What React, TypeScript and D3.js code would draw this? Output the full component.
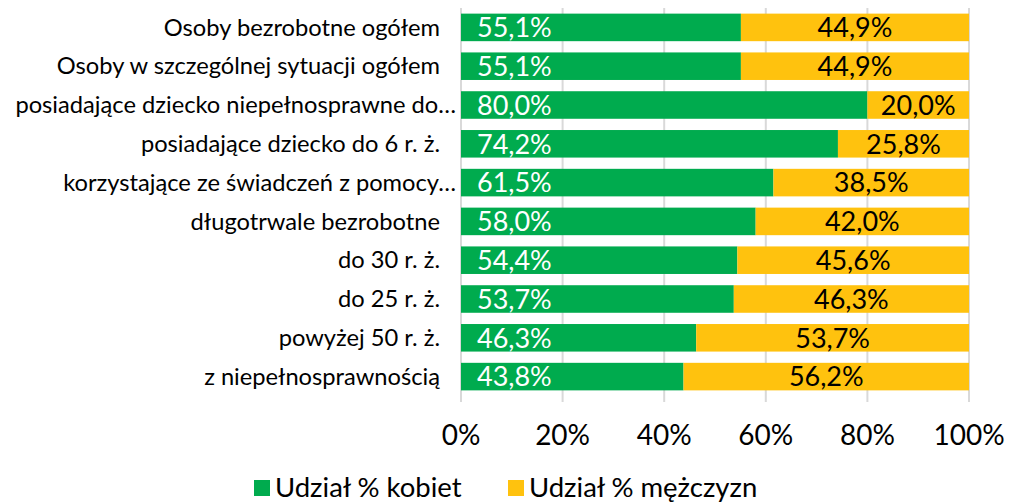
import React from "react";
import * as d3 from "d3";

const categories = [
  "Osoby bezrobotne ogółem",
  "Osoby w szczególnej sytuacji ogółem",
  "posiadające dziecko niepełnosprawne do…",
  "posiadające dziecko do 6 r. ż.",
  "korzystające ze świadczeń z pomocy…",
  "długotrwale bezrobotne",
  "do 30 r. ż.",
  "do 25 r. ż.",
  "powyżej 50 r. ż.",
  "z niepełnosprawnością",
];
const women = [55.1, 55.1, 80.0, 74.2, 61.5, 58.0, 54.4, 53.7, 46.3, 43.8];
const men = [44.9, 44.9, 20.0, 25.8, 38.5, 42.0, 45.6, 46.3, 53.7, 56.2];
const ticks = [0, 20, 40, 60, 80, 100];
const seriesNames = ["Udział % kobiet", "Udział % mężczyzn"];

const GREEN = "#00AB4E";
const YELLOW = "#FFC20E";
const FONT = "Lato, 'Open Sans', sans-serif";

const fmt = (v: number) => v.toFixed(1).replace(".", ",") + "%";

export default function App() {
  const width = 1009;
  const height = 504;
  const margin = { top: 8, right: 40, bottom: 108, left: 461 };

  const x = d3.scaleLinear().domain([0, 100]).range([margin.left, 969]);
  const y = d3
    .scaleBand()
    .domain(categories)
    .range([margin.top, height - margin.bottom])
    .paddingInner(0.29)
    .paddingOuter(0.145);

  return (
    <svg
      width={width}
      height={height}
      style={{ position: "absolute", left: 0, top: 0, fontFamily: FONT }}
    >
      {/* grid */}
      {ticks.map((t) => (
        <line
          key={t}
          x1={x(t)}
          x2={x(t)}
          y1={margin.top}
          y2={height - margin.bottom + 6}
          stroke="#d9d9d9"
          strokeWidth={2}
        />
      ))}

      {categories.map((c, i) => {
        const y0 = y(c)!;
        const bh = y.bandwidth();
        const cy = y0 + bh / 2;
        const truncated = c.endsWith("…");
        return (
          <g key={c}>
            <rect x={x(0)} y={y0} width={x(women[i]) - x(0)} height={bh} fill={GREEN} />
            <rect
              x={x(women[i])}
              y={y0}
              width={x(100) - x(women[i])}
              height={bh}
              fill={YELLOW}
            />
            <text x={x(0) + 16} y={cy} dy="0.36em" fill="#fff" fontSize={27}>
              {fmt(women[i])}
            </text>
            <text
              x={(x(women[i]) + x(100)) / 2}
              y={cy}
              dy="0.36em"
              textAnchor="middle"
              fill="#000"
              fontSize={27}
            >
              {fmt(men[i])}
            </text>
            <text
              x={truncated ? 456 : 440}
              y={cy}
              dy="0.35em"
              textAnchor="end"
              fill="#000"
              fontSize={23.7}
            >
              {c}
            </text>
          </g>
        );
      })}

      {ticks.map((t) => (
        <text
          key={"t" + t}
          x={x(t)}
          y={435}
          dy="0.36em"
          textAnchor="middle"
          fontSize={28}
          fill="#000"
        >
          {t + "%"}
        </text>
      ))}

      {/* legend */}
      {seriesNames.map((s, i) => {
        const lx = i === 0 ? 254 : 508;
        return (
          <g key={s}>
            <rect x={lx} y={480} width={16} height={16} fill={i === 0 ? GREEN : YELLOW} />
            <text x={lx + 21} y={487} dy="0.36em" fontSize={27.5} fill="#000">
              {s}
            </text>
          </g>
        );
      })}
    </svg>
  );
}
